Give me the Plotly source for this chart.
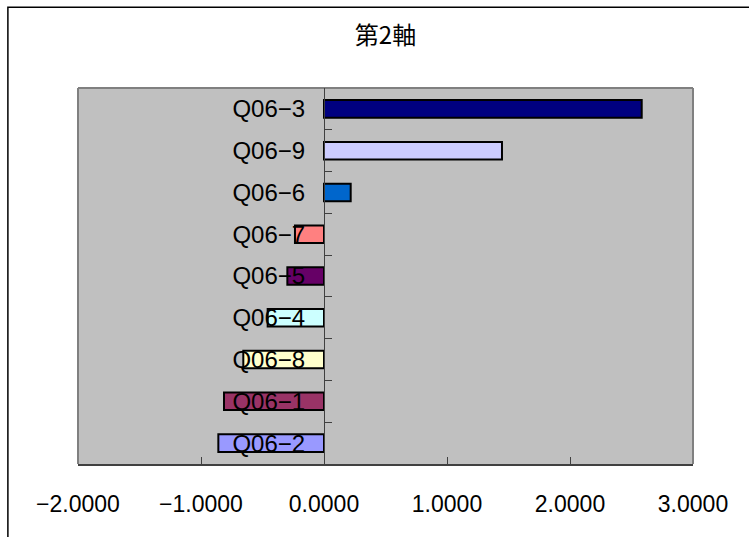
import plotly.graph_objects as go

# Items, listed bottom to top
categories = ["Q06−2", "Q06−1", "Q06−8", "Q06−4", "Q06−5", "Q06−7", "Q06−6", "Q06−9", "Q06−3"]
values = [-0.859, -0.813, -0.656, -0.458, -0.298, -0.236, 0.217, 1.447, 2.583]
bar_colors = ["#9999FF", "#993366", "#FFFFCC", "#CCFFFF", "#660066",
              "#FF8080", "#0066CC", "#CCCCFF", "#000080"]
x_ticks = [-2, -1, 0, 1, 2, 3]
title_text = "第2軸"

x_min, x_max = -2, 3

fig = go.Figure(
    go.Bar(
        x=values,
        y=categories,
        orientation="h",
        width=0.42,
        marker=dict(color=bar_colors, line=dict(color="#000000", width=2)),
        showlegend=False,
    )
)

label_font = dict(family="Liberation Sans, Arial, sans-serif", size=23, color="#000000")
cat_font = dict(family="Liberation Sans, Arial, sans-serif", size=24, color="#000000")

fig.update_layout(
    width=749,
    height=537,
    margin=dict(l=78, r=56, t=88, b=73),
    paper_bgcolor="#FFFFFF",
    plot_bgcolor="#C0C0C0",
    title=dict(
        text=title_text,
        x=0.5,
        xref="paper",
        xanchor="center",
        y=0.934,
        yanchor="middle",
        font=dict(family="Noto Sans CJK JP, sans-serif", size=24, color="#000000"),
    ),
    xaxis=dict(
        range=[x_min, x_max],
        tickvals=x_ticks,
        tickformat=".4f",
        ticks="inside",
        ticklen=7,
        tickcolor="#404040",
        tickwidth=1,
        showgrid=False,
        zeroline=False,
        showline=True,
        linecolor="#404040",
        linewidth=2,
        mirror=False,
        tickfont=label_font,
        ticklabelstandoff=18,
        fixedrange=True,
    ),
    yaxis=dict(
        type="category",
        categoryorder="array",
        categoryarray=categories,
        anchor="free",
        position=(0 - x_min) / (x_max - x_min),
        layer="above traces",
        ticks="inside",
        tickson="boundaries",
        ticklen=7,
        tickcolor="#404040",
        tickwidth=1,
        showgrid=False,
        zeroline=False,
        showline=True,
        linecolor="#404040",
        linewidth=1,
        tickfont=cat_font,
        ticklabelstandoff=14,
        fixedrange=True,
    ),
    bargap=0.58,
    shapes=[
        # plot-area frame (grey)
        dict(type="line", xref="paper", yref="paper", x0=0, x1=1, y0=1, y1=1,
             line=dict(color="#808080", width=2), layer="below"),
        dict(type="line", xref="paper", yref="paper", x0=1, x1=1, y0=0, y1=1,
             line=dict(color="#808080", width=2), layer="below"),
        dict(type="line", xref="paper", yref="paper", x0=0, x1=0, y0=0, y1=1,
             line=dict(color="#808080", width=2), layer="below"),
        # outer chart frame
        dict(type="rect", xref="paper", yref="paper", x0=-0.114, x1=1.3, y0=-0.4, y1=1.215,
             line=dict(color="#000000", width=1.5), fillcolor="rgba(0,0,0,0)", layer="below"),
    ],
)

fig.write_html("out.html")
